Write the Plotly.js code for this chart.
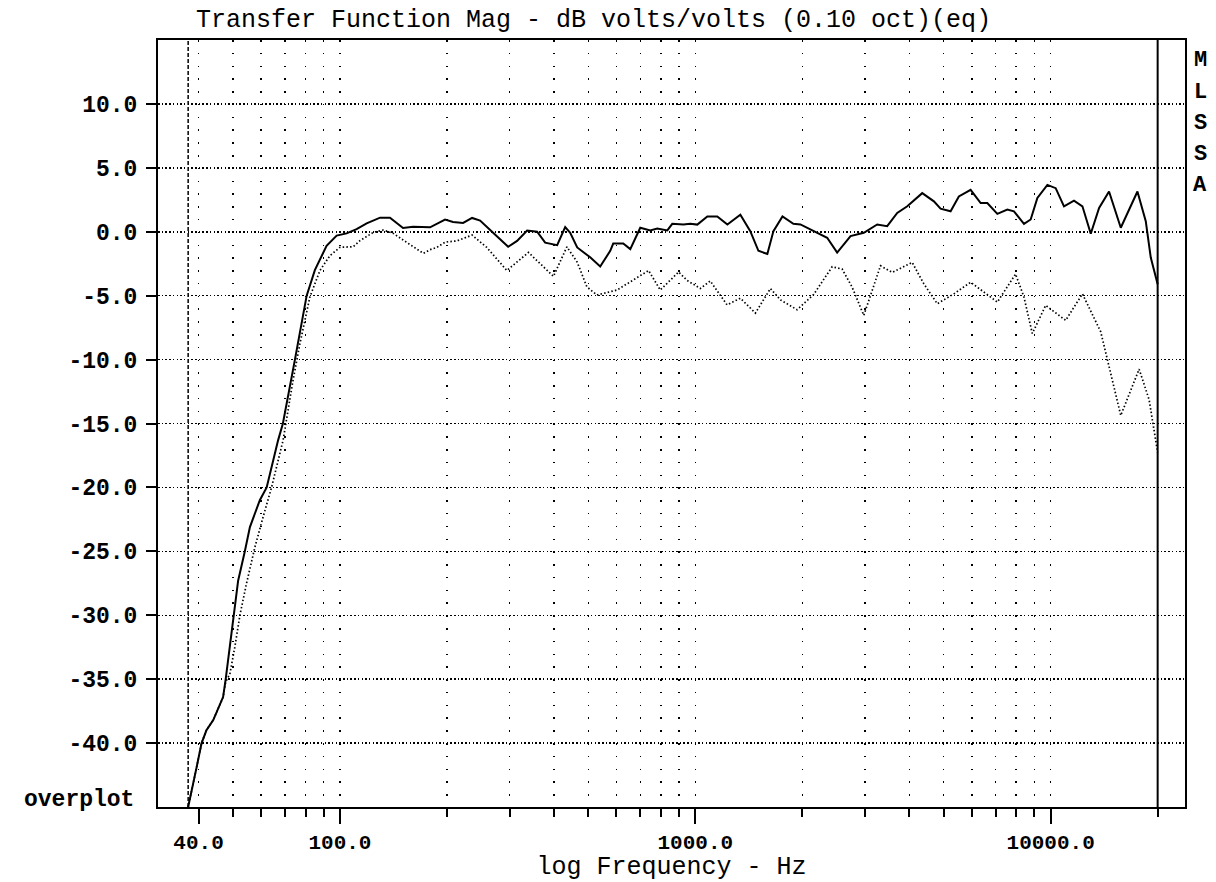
<!DOCTYPE html>
<html>
<head>
<meta charset="utf-8">
<script src="https://cdn.plot.ly/plotly-3.0.1.min.js"></script>
<style>
  html, body { margin: 0; padding: 0; background: #ffffff; }
  #chart { width: 1216px; height: 882px; }
</style>
</head>
<body>
<div id="chart"></div>
<script>
// ---- Data ----
const freqSolid = [37.4, 38.2, 39.5, 40.8, 42.1, 44.0, 46.9, 47.7, 49.0, 50.1, 51.7, 54.0, 55.8, 59.5, 62.2, 67.0, 69.1, 74.7, 80.6, 85.0, 91.7, 97.9, 104.4, 111.4, 118.9, 129.7, 138.3, 150.5, 160.6, 179.3, 197.6, 208.1, 222.1, 235.4, 248, 269.8, 297.4, 315.1, 336.3, 358.8, 378, 408.6, 430.4, 444.6, 465.2, 506, 540, 576.3, 587.5, 626.9, 656.1, 700, 746.8, 781.6, 834, 861.4, 925.1, 968, 1013, 1081, 1153, 1231, 1339, 1428, 1505, 1595, 1659, 1759, 1888, 1976, 2202, 2350, 2507, 2734, 2979, 3250, 3467, 3700, 3949, 4351, 4692, 4899, 5229, 5516, 5953, 6353, 6633, 7078, 7551, 7883, 8413, 8785, 9174, 9789, 10330, 10902, 11631, 12285, 12966, 13685, 14596, 15750, 17545, 18517, 19128, 20000];
const dbSolid = [-45, -43.7, -41.9, -40, -39, -38.2, -36.4, -35, -32.5, -30, -27.3, -25, -23.1, -21, -20, -16.3, -15, -10, -5, -3.0, -1.1, -0.3, -0.13, 0.2, 0.65, 1.1, 1.1, 0.3, 0.4, 0.35, 0.95, 0.77, 0.69, 1.08, 0.87, -0.08, -1.18, -0.72, 0.1, 0, -0.85, -1.05, 0.36, -0.08, -1.23, -2.0, -2.72, -1.49, -0.92, -0.92, -1.36, 0.31, 0.1, 0.26, 0.1, 0.62, 0.56, 0.62, 0.56, 1.2, 1.2, 0.56, 1.33, 0.05, -1.49, -1.74, 0.05, 1.2, 0.62, 0.57, -0.08, -0.47, -1.63, -0.34, -0.08, 0.57, 0.44, 1.47, 1.99, 3.02, 2.38, 1.81, 1.6, 2.76, 3.28, 2.25, 2.25, 1.4, 1.73, 1.6, 0.62, 0.96, 2.64, 3.67, 3.41, 1.99, 2.43, 1.99, -0.16, 1.86, 3.15, 0.31, 3.15, 0.83, -2.02, -4.1];

const freqDotted = [37.4, 38.2, 39.5, 40.8, 42.1, 44.0, 46.9, 47.7, 49.0, 50.6, 52.3, 54.6, 57.6, 60.8, 64.2, 69.2, 73.7, 77.1, 82.3, 87.8, 93.7, 100, 109, 113.8, 124.1, 132.4, 141.3, 154.1, 171.7, 179.3, 187.3, 198, 213.2, 235.4, 259, 294.9, 339.2, 398.8, 435.2, 465.2, 495.3, 528.6, 601.8, 656.1, 738.7, 796.8, 897.4, 947.5, 1033, 1102, 1228, 1339, 1476, 1627, 1736, 1934, 2154, 2427, 2590, 2763, 2979, 3320, 3582, 4077, 4397, 4796, 5341, 5953, 7078, 7966, 8413, 8878, 9681, 11021, 12285, 13831, 15750, 17736, 18923, 20000];
const dbDotted = [-45, -43.7, -41.9, -40, -39, -38.2, -36.4, -35.2, -34.6, -32.5, -30, -27.5, -24.7, -22.3, -20, -16.3, -11.7, -8.8, -5.1, -3.04, -1.87, -1.22, -1.17, -0.7, -0.05, 0.13, -0.13, -0.83, -1.69, -1.4, -1.22, -0.8, -0.72, -0.26, -1.23, -3.03, -1.62, -3.49, -1.18, -2.38, -4.31, -4.95, -4.56, -3.92, -3.03, -4.56, -3.15, -3.8, -4.44, -3.85, -5.72, -5.2, -6.36, -4.44, -5.33, -6.1, -4.9, -2.74, -2.92, -4.34, -6.54, -2.66, -3.18, -2.4, -4.08, -5.63, -4.86, -3.95, -5.5, -3.31, -5.12, -7.96, -5.76, -6.93, -4.86, -7.83, -14.37, -10.75, -13.13, -17.26];

// axis ticks
const xMajorTicks = [40, 100, 1000, 10000];
const xMajorLabels = ['40.0', '100.0', '1000.0', '10000.0'];
const xMinorTicks = [50, 60, 70, 80, 90, 200, 300, 400, 500, 600, 700, 800, 900, 2000, 3000, 4000, 5000, 6000, 7000, 8000, 9000, 20000];
const yTicks = [-40, -35, -30, -25, -20, -15, -10, -5, 0, 5, 10];
const yTickLabels = yTicks.map(v => v.toFixed(1));
const markerFreq = 37.4;     // dashed cursor line
const limitFreq = 20000;     // solid line at upper limit
const yRange = [-45, 15];
const xRangeLog = [1.488, 4.378];
const sideLetters = ['M', 'L', 'S', 'S', 'A'];

const titleText = 'Transfer Function Mag - dB volts/volts (0.10 oct)(eq)';
const xTitleText = 'log Frequency - Hz';

// ---- Geometry ----
const W = 1216, H = 882;
const M = {l: 158, r: 31, t: 40, b: 75};
const plotW = W - M.l - M.r, plotH = H - M.t - M.b;
const dbPx = plotH / (yRange[1] - yRange[0]);
const vDash = '1.5px,' + (dbPx - 1.5).toFixed(3) + 'px';

const FAM = 'Liberation Mono, DejaVu Sans Mono, monospace';
const monoBold = {family: FAM, size: 23, color: '#000', weight: 'bold'};
const monoBoldX = {family: FAM, size: 21, color: '#000', weight: 'bold'};
const mono = {family: FAM, size: 25, color: '#000'};

const traces = [
  {x: freqSolid, y: dbSolid, type: 'scatter', mode: 'lines',
   line: {color: '#000', width: 2}, hoverinfo: 'skip'},
  {x: freqDotted, y: dbDotted, type: 'scatter', mode: 'lines',
   line: {color: '#000', width: 1.7, dash: '1.5px,2.2px'}, hoverinfo: 'skip'},
  {x: [markerFreq, markerFreq], y: yRange, type: 'scatter', mode: 'lines',
   line: {color: '#000', width: 1.5, dash: '4px,2px'}, hoverinfo: 'skip'},
  {x: [limitFreq, limitFreq], y: yRange, type: 'scatter', mode: 'lines',
   line: {color: '#000', width: 2}, hoverinfo: 'skip'}
];

const annotations = [
  {text: 'overplot', xref: 'paper', yref: 'paper', x: (136 - M.l) / plotW, y: (M.t + plotH - 800) / plotH,
   xanchor: 'right', yanchor: 'middle', showarrow: false, font: monoBold}
].concat(sideLetters.map((c, i) => ({
  text: c, xref: 'paper', yref: 'paper', x: (1200 - M.l) / plotW,
  y: 1 - (61 + 31 * i - M.t) / plotH, xanchor: 'center', yanchor: 'middle',
  showarrow: false, font: {family: FAM, size: 22, color: '#000', weight: 'bold'}
})));

const layout = {
  width: W, height: H,
  margin: M,
  paper_bgcolor: '#fff', plot_bgcolor: '#fff',
  showlegend: false,
  hovermode: false,
  title: {text: titleText, font: mono, xref: 'paper', x: (196 - M.l) / plotW, xanchor: 'left',
          yref: 'container', y: 1 - 18 / H, yanchor: 'middle'},
  xaxis: {
    type: 'log', range: xRangeLog,
    tickmode: 'array', tickvals: xMajorTicks, ticktext: xMajorLabels,
    ticks: 'outside', ticklen: 15, tickwidth: 2, tickcolor: '#000',
    tickfont: monoBoldX,
    showline: true, linewidth: 2, linecolor: '#000', mirror: true,
    showgrid: true, gridcolor: '#000', gridwidth: 1.5, griddash: vDash,
    zeroline: false,
    minor: {tickmode: 'array', tickvals: xMinorTicks, ticks: 'outside', ticklen: 8, tickwidth: 2,
            tickcolor: '#000', showgrid: true, gridcolor: '#000', gridwidth: 1.5, griddash: vDash},
    title: {text: xTitleText, font: mono, standoff: 3}
  },
  yaxis: {
    range: yRange,
    tickmode: 'array', tickvals: yTicks, ticktext: yTickLabels,
    ticks: 'outside', ticklen: 10, tickwidth: 2, tickcolor: '#000',
    tickfont: monoBold, ticklabelstandoff: 4,
    showline: true, linewidth: 2, linecolor: '#000', mirror: true,
    showgrid: true, gridcolor: '#000', gridwidth: 1.5, griddash: '1.5px,2.2px',
    zeroline: false
  },
  annotations: annotations
};

Plotly.newPlot('chart', traces, layout, {staticPlot: true, displayModeBar: false});
</script>
</body>
</html>
